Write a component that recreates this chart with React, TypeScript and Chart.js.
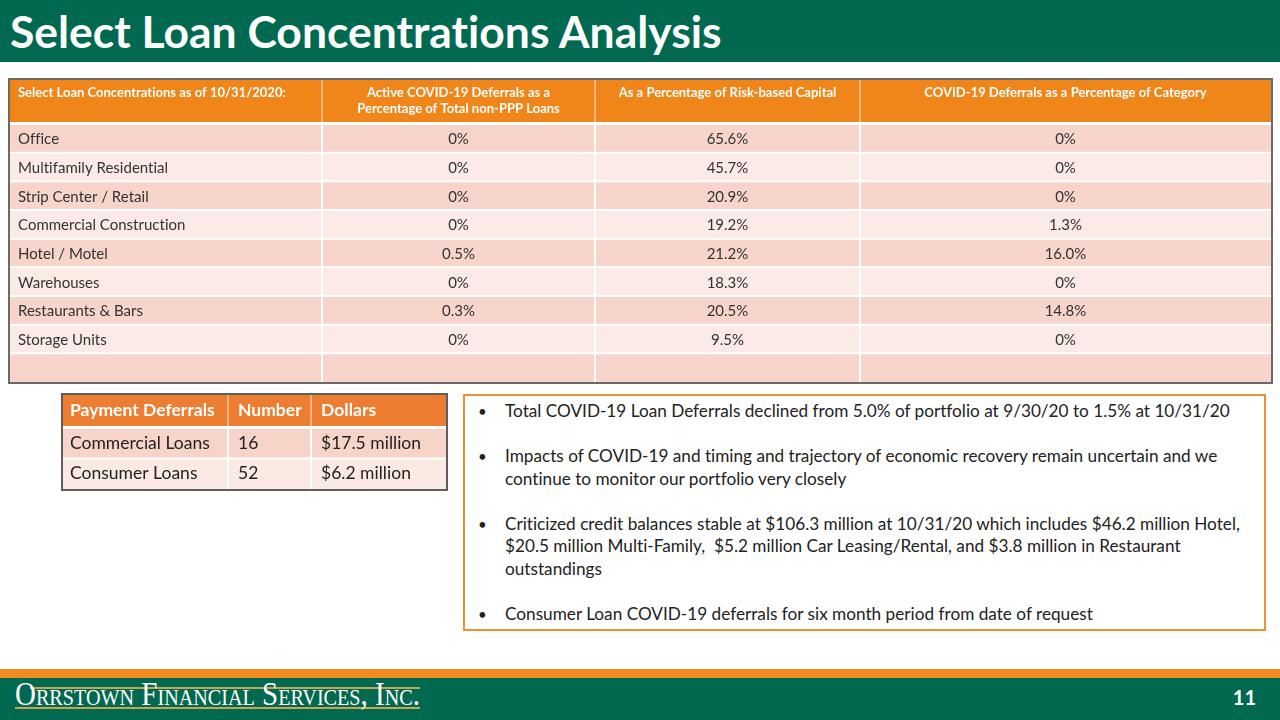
import React, { useEffect, useLayoutEffect, useRef, useState } from 'react';
import { Chart, registerables } from 'chart.js';

Chart.register(...registerables);

// ---------- Data ----------
const concentrationCategories = [
  'Office',
  'Multifamily Residential',
  'Strip Center / Retail',
  'Commercial Construction',
  'Hotel / Motel',
  'Warehouses',
  'Restaurants & Bars',
  'Storage Units',
];
const activeDeferralsPct = [0, 0, 0, 0, 0.5, 0, 0.3, 0];
const riskBasedCapitalPct = [65.6, 45.7, 20.9, 19.2, 21.2, 18.3, 20.5, 9.5];
const categoryDeferralsPct = [0, 0, 0, 1.3, 16.0, 0, 14.8, 0];
const concentrationHeaders = [
  ['Select Loan Concentrations as of 10/31/2020:'],
  ['Active COVID-19 Deferrals as a', 'Percentage of Total non-PPP Loans'],
  ['As a Percentage of Risk-based Capital'],
  ['COVID-19 Deferrals as a Percentage of Category'],
];

const deferralTypes = ['Commercial Loans', 'Consumer Loans'];
const deferralCounts = [16, 52];
const deferralDollarsMillions = [17.5, 6.2];
const deferralHeaders = [['Payment Deferrals'], ['Number'], ['Dollars']];

const bulletPoints: string[][] = [
  ['Total COVID-19 Loan Deferrals declined from 5.0% of portfolio at 9/30/20 to 1.5% at 10/31/20'],
  [
    'Impacts of COVID-19 and timing and trajectory of economic recovery remain uncertain and we',
    'continue to monitor our portfolio very closely',
  ],
  [
    'Criticized credit balances stable at $106.3 million at 10/31/20 which includes $46.2 million Hotel,',
    '$20.5 million Multi-Family,  $5.2 million Car Leasing/Rental, and $3.8 million in Restaurant',
    'outstandings',
  ],
  ['Consumer Loan COVID-19 deferrals for six month period from date of request'],
];

const slideTitle = 'Select Loan Concentrations Analysis';
const companyName = 'Orrstown Financial Services, Inc.';
const pageNumber = '11';

// ---------- Styles ----------
const GREEN = '#00694F';
const ORANGE = '#F0861A';
const FONT = 'Lato, "Open Sans", sans-serif';

type Align = 'left' | 'center';
type TableProps = {
  left: number;
  top: number;
  width: number;
  height: number;
  colWeights: number[];
  headers: string[][];
  rowLabels: string[];
  columns: string[][];
  headerH: number;
  headerGap: number;
  border: number;
  borderColor: string;
  headerColor: string;
  headerSepColor: string;
  headerSepW: number;
  headerTextColor: string;
  headerFont: string;
  headerAlign: Align[];
  headerVAlign: 'top' | 'middle';
  headerFirstLine: number;
  headerLineGap: number;
  bands: [string, string];
  sepColor: string;
  sepW: number;
  bodyFont: string;
  textColor: string;
  align: Align[];
  padX: number[];
  textDy: number;
};

function noLigatures(ctx: any) {
  try {
    ctx.letterSpacing = '0.01px';
  } catch (e) {
    /* ignore */
  }
}

function TableChart(p: TableProps) {
  const ref = useRef<HTMLCanvasElement>(null);
  useEffect(() => {
    const canvas = ref.current!;
    const n = p.colWeights.length;
    const edges = [0];
    p.colWeights.forEach((w) => edges.push(edges[edges.length - 1] + w));
    const total = edges[n];
    const rows = p.rowLabels;

    const colX = (chart: any, c: number, al: Align) => {
      const x = chart.scales.x;
      const x0 = x.getPixelForValue(edges[c]);
      const x1 = x.getPixelForValue(edges[c + 1]);
      return al === 'left' ? x0 + p.padX[c] : (x0 + x1) / 2;
    };

    const plugin = {
      id: 'tableDecor',
      beforeDatasetsDraw(chart: any) {
        const { ctx, chartArea } = chart;
        const x = chart.scales.x;
        const top = chartArea.top - p.headerH;
        const hh = p.headerH - p.headerGap;
        ctx.save();
        ctx.fillStyle = p.headerColor;
        ctx.fillRect(chartArea.left, top, chartArea.right - chartArea.left, hh);
        ctx.fillStyle = p.headerSepColor;
        for (let i = 1; i < n; i++) {
          const px = x.getPixelForValue(edges[i]);
          ctx.fillRect(px - p.headerSepW / 2, top, p.headerSepW, hh);
        }
        ctx.fillStyle = p.headerTextColor;
        ctx.font = p.headerFont;
        noLigatures(ctx);
        ctx.textBaseline = 'middle';
        p.headers.forEach((lines, c) => {
          const al = p.headerAlign[c];
          ctx.textAlign = al;
          const tx = colX(chart, c, al);
          lines.forEach((ln, li) => {
            const ty =
              p.headerVAlign === 'top'
                ? top + p.headerFirstLine + li * p.headerLineGap
                : top + hh / 2 + (li - (lines.length - 1) / 2) * p.headerLineGap;
            ctx.fillText(ln, tx, ty);
          });
        });
        ctx.restore();
      },
      afterDatasetsDraw(chart: any) {
        const { ctx } = chart;
        const y = chart.scales.y;
        ctx.save();
        ctx.fillStyle = p.textColor;
        ctx.font = p.bodyFont;
        noLigatures(ctx);
        ctx.textBaseline = 'middle';
        p.columns.forEach((vals, c) => {
          const al = p.align[c];
          ctx.textAlign = al;
          const tx = colX(chart, c, al);
          vals.forEach((v, r) => {
            if (v) ctx.fillText(v, tx, y.getPixelForValue(r) + p.textDy);
          });
        });
        ctx.restore();
      },
      afterDraw(chart: any) {
        const { ctx } = chart;
        ctx.save();
        ctx.strokeStyle = p.borderColor;
        ctx.lineWidth = p.border;
        const b = p.border / 2;
        ctx.strokeRect(b, b, chart.width - p.border, chart.height - p.border);
        ctx.restore();
      },
    };

    const chart = new Chart(canvas, {
      type: 'bar',
      data: {
        labels: rows,
        datasets: p.colWeights.map((_, c) => ({
          label: p.headers[c].join(' '),
          data: rows.map(() => [edges[c], edges[c + 1]]),
          backgroundColor: rows.map((_, r) => p.bands[r % 2]),
          borderColor: p.sepColor,
          borderWidth: (ctx: any) => ({
            top: p.sepW / 2,
            bottom: ctx.dataIndex === rows.length - 1 ? 0 : p.sepW / 2,
            left: c > 0 ? p.sepW / 2 : 0,
            right: c < n - 1 ? p.sepW / 2 : 0,
          }),
          borderSkipped: false,
          inflateAmount: 0,
          grouped: false,
          categoryPercentage: 1,
          barPercentage: 1,
        })) as any,
      },
      options: {
        indexAxis: 'y',
        responsive: false,
        maintainAspectRatio: false,
        animation: false,
        events: [],
        layout: {
          padding: { top: p.border + p.headerH, left: p.border, right: p.border, bottom: p.border },
        },
        plugins: { legend: { display: false }, tooltip: { enabled: false } },
        scales: {
          x: { type: 'linear', min: 0, max: total, display: false },
          y: { type: 'category', display: false },
        },
      },
      plugins: [plugin],
    });
    return () => chart.destroy();
  }, []);
  return (
    <canvas
      ref={ref}
      width={p.width}
      height={p.height}
      style={{ position: 'absolute', left: p.left, top: p.top, width: p.width, height: p.height }}
    />
  );
}

function FitText(props: { text: string; width: number; style: React.CSSProperties }) {
  const ref = useRef<HTMLSpanElement>(null);
  const [sx, setSx] = useState(1);
  useLayoutEffect(() => {
    const el = ref.current;
    if (el && el.offsetWidth > 0) setSx(props.width / el.offsetWidth);
  }, []);
  return (
    <span
      ref={ref}
      style={{
        ...props.style,
        display: 'inline-block',
        whiteSpace: 'pre',
        fontVariantLigatures: 'none',
        transform: `scaleX(${sx})`,
        transformOrigin: 'left center',
      }}
    >
      {props.text}
    </span>
  );
}

const fmtPct = (v: number) => (v === 0 ? '0%' : v.toFixed(1) + '%');

export default function App() {
  const mainRows = [...concentrationCategories, ''];
  const mainCols = [
    mainRows,
    [...activeDeferralsPct.map(fmtPct), ''],
    [...riskBasedCapitalPct.map(fmtPct), ''],
    [...categoryDeferralsPct.map(fmtPct), ''],
  ];
  const smallCols = [
    deferralTypes,
    deferralCounts.map(String),
    deferralDollarsMillions.map((v) => `$${v.toFixed(1)} million`),
  ];

  return (
    <div
      style={{
        position: 'absolute',
        left: 0,
        top: 0,
        width: 1280,
        height: 720,
        background: '#fff',
        overflow: 'hidden',
        fontFamily: FONT,
        fontVariantLigatures: 'none',
      }}
    >
      {/* Title bar */}
      <div style={{ position: 'absolute', left: 0, top: 0, width: 1280, height: 62, background: GREEN }} />
      <div
        style={{
          position: 'absolute',
          left: 10,
          top: 3,
          height: 62,
          lineHeight: '56px',
          color: '#fff',
        }}
      >
        <FitText text={slideTitle} width={712} style={{ fontWeight: 700, fontSize: 44, fontFamily: FONT }} />
      </div>

      {/* Main concentrations table */}
      <TableChart
        left={8}
        top={78}
        width={1265}
        height={306}
        colWeights={[312, 273, 265, 411]}
        headers={concentrationHeaders}
        rowLabels={mainRows}
        columns={mainCols}
        headerH={44}
        headerGap={2}
        border={2}
        borderColor="#6A6A6A"
        headerColor={ORANGE}
        headerSepColor="#F7B47C"
        headerSepW={2}
        headerTextColor="#FFFFFF"
        headerFont={`bold 13px ${FONT}`}
        headerAlign={['left', 'center', 'center', 'center']}
        headerVAlign="top"
        headerFirstLine={13}
        headerLineGap={16}
        bands={['#F7D5CB', '#FBEAE5']}
        sepColor="#FFFFFF"
        sepW={2}
        bodyFont={`15px ${FONT}`}
        textColor="#333333"
        align={['left', 'center', 'center', 'center']}
        padX={[8, 0, 0, 0]}
        textDy={1}
      />

      {/* Payment deferrals table */}
      <TableChart
        left={61}
        top={393}
        width={387}
        height={98}
        colWeights={[165, 83, 135]}
        headers={deferralHeaders}
        rowLabels={deferralTypes}
        columns={smallCols}
        headerH={33}
        headerGap={2}
        border={2}
        borderColor="#5E5E5E"
        headerColor="#ED7D31"
        headerSepColor="#F4B183"
        headerSepW={2}
        headerTextColor="#FFFFFF"
        headerFont={`bold 17.5px ${FONT}`}
        headerAlign={['left', 'left', 'left']}
        headerVAlign="middle"
        headerFirstLine={0}
        headerLineGap={18}
        bands={['#F7D4C8', '#FBE9E4']}
        sepColor="#FFFFFF"
        sepW={2}
        bodyFont={`17.5px ${FONT}`}
        textColor="#222222"
        align={['left', 'left', 'left']}
        padX={[7, 10, 10]}
        textDy={0}
      />

      {/* Bullet box */}
      <div
        style={{
          position: 'absolute',
          left: 463,
          top: 394,
          width: 803,
          height: 237,
          boxSizing: 'border-box',
          border: '2px solid #EB9234',
          paddingTop: 4,
          color: '#222222',
          fontSize: 17.2,
          lineHeight: '22.5px',
        }}
      >
        {bulletPoints.map((lines, i) => (
          <div key={i} style={{ position: 'relative', marginBottom: 22.5 }}>
            <span style={{ position: 'absolute', left: 13, fontSize: 15 }}>•</span>
            {lines.map((ln, j) => (
              <div key={j} style={{ paddingLeft: 40, whiteSpace: 'pre' }}>
                {ln}
              </div>
            ))}
          </div>
        ))}
      </div>

      {/* Footer */}
      <div style={{ position: 'absolute', left: 0, top: 669, width: 1280, height: 10, background: '#F18A1F' }} />
      <div style={{ position: 'absolute', left: 0, top: 678, width: 1280, height: 42, background: GREEN }} />
      <div style={{ position: 'absolute', left: 30, top: 687, width: 390, height: 1.5, background: '#C9A44A' }} />
      <div style={{ position: 'absolute', left: 15, top: 707, width: 405, height: 1.5, background: '#C9A44A' }} />
      <div style={{ position: 'absolute', left: 15, top: 676, height: 36, lineHeight: '36px', color: '#fff' }}>
        <FitText
          text={companyName}
          width={405}
          style={{ fontFamily: '"Liberation Serif", "DejaVu Serif", serif', fontSize: 33, fontVariant: 'small-caps' }}
        />
      </div>
      <div
        style={{
          position: 'absolute',
          left: 1222,
          top: 684,
          width: 34,
          textAlign: 'right',
          color: '#fff',
          fontWeight: 700,
          fontSize: 20,
          lineHeight: '26px',
          fontFamily: FONT,
        }}
      >
        {pageNumber}
      </div>
    </div>
  );
}
